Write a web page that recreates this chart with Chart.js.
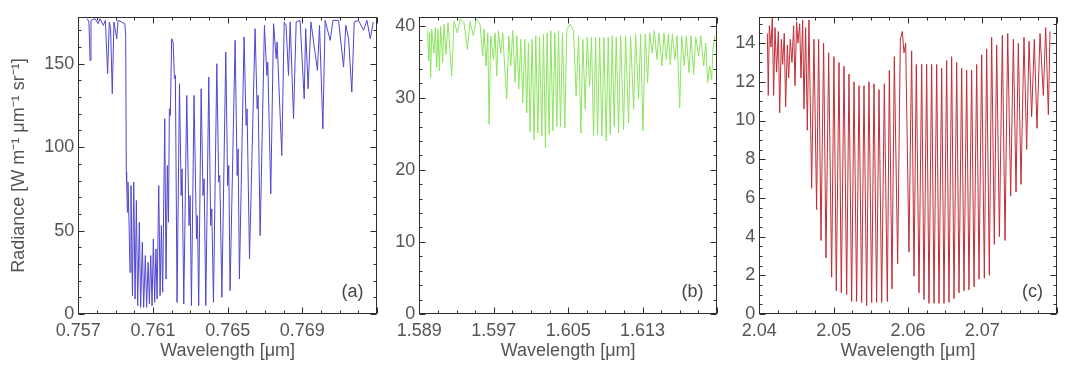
<!DOCTYPE html>
<html>
<head>
<meta charset="utf-8">
<script src="https://cdn.jsdelivr.net/npm/chart.js@4.4.1/dist/chart.umd.min.js"></script>
<style>
  body { margin: 0; background: #fff; }
  .panel { position: absolute; top: 0; height: 374px; }
</style>
</head>
<body>
<div class="panel" style="left:0;width:382px"><canvas id="chartA"></canvas></div>
<div class="panel" style="left:382px;width:338px"><canvas id="chartB"></canvas></div>
<div class="panel" style="left:720px;width:345px"><canvas id="chartC"></canvas></div>
<script>
// (a) 0.76 um band
const waveA = [0.75748,0.75757,0.75763,0.75768,0.75789,0.75807,0.75816,0.75834,0.75845,0.75857,
  0.75866,0.75873,0.75882,0.75891,0.75906,0.75913,0.75932,0.75949,0.75954,0.75957,
  0.75959,0.75963,0.75966,0.75972,0.75977,0.75982,0.75990,0.75997,0.76004,0.76011,
  0.76018,0.76027,0.76034,0.76043,0.76050,0.76059,0.76066,0.76074,0.76081,0.76088,
  0.76095,0.76102,0.76109,0.76116,0.76122,0.76131,0.76138,0.76145,0.76152,0.76163,
  0.76170,0.76177,0.76183,0.76188,0.76193,0.76200,0.76208,0.76215,0.76220,0.76229,
  0.76242,0.76251,0.76256,0.76265,0.76281,0.76293,0.76299,0.76306,0.76320,0.76333,
  0.76338,0.76345,0.76358,0.76368,0.76374,0.76383,0.76399,0.76409,0.76415,0.76424,
  0.76442,0.76452,0.76458,0.76469,0.76490,0.76500,0.76506,0.76513,0.76540,0.76551,
  0.76556,0.76563,0.76588,0.76599,0.76604,0.76617,0.76647,0.76658,0.76663,0.76674,
  0.76697,0.76710,0.76715,0.76731,0.76746,0.76760,0.76765,0.76790,0.76803,0.76813,
  0.76826,0.76835,0.76853,0.76867,0.76888,0.76910,0.76918,0.76931,0.76946,0.76981,
  0.76992,0.77010,0.77022,0.77049,0.77064,0.77094,0.77121,0.77133,0.77148,0.77165,
  0.77178,0.77201,0.77228,0.77246,0.77264,0.77280];
const radA = [177,175,152,176,177,174,177,173,176,144,
  175,171,132,175,165,176,175,174,167,85,
  79,61,79,53,25,77,11,79,9,68,
  5,55,4,43,4,35,4,31,6,35,
  5,45,7,39,9,77,11,53,13,117,
  21,89,55,123,119,165,163,141,143,7,
  138,71,87,6,131,53,71,5,131,45,
  59,5,135,71,81,5,142,53,63,7,
  150,79,83,10,157,77,89,14,164,83,
  99,21,166,113,123,33,171,123,131,47,
  173,143,151,72,174,153,163,95,175,173,
  143,175,117,175,176,129,171,135,175,146,
  173,111,176,164,176,176,148,173,165,133,
  175,176,170,176,165,175];

// (b) 1.6 um band
const waveB = [1.58990,1.59001,1.59011,1.59022,1.59033,1.59058,1.59072,1.59087,1.59101,1.59115,
  1.59130,1.59151,1.59166,1.59187,1.59209,1.59248,1.59273,1.59309,1.59338,1.59381,
  1.59417,1.59445,1.59481,1.59510,1.59553,1.59582,1.59596,1.59618,1.59636,1.59650,
  1.59668,1.59697,1.59715,1.59732,1.59750,1.59776,1.59797,1.59826,1.59840,1.59862,
  1.59883,1.59905,1.59930,1.59948,1.59969,1.59991,1.60012,1.60034,1.60055,1.60073,
  1.60091,1.60113,1.60134,1.60152,1.60174,1.60192,1.60217,1.60235,1.60256,1.60274,
  1.60296,1.60314,1.60335,1.60357,1.60378,1.60396,1.60418,1.60439,1.60464,1.60486,
  1.60522,1.60558,1.60586,1.60612,1.60637,1.60658,1.60683,1.60705,1.60730,1.60751,
  1.60773,1.60795,1.60816,1.60838,1.60863,1.60884,1.60909,1.60931,1.60952,1.60974,
  1.60995,1.61017,1.61042,1.61064,1.61096,1.61117,1.61150,1.61171,1.61204,1.61225,
  1.61257,1.61279,1.61304,1.61329,1.61354,1.61376,1.61404,1.61426,1.61455,1.61476,
  1.61509,1.61530,1.61555,1.61577,1.61598,1.61620,1.61648,1.61670,1.61699,1.61720,
  1.61749,1.61770,1.61799,1.61821,1.61849,1.61871,1.61903,1.61925,1.61957,1.61979,
  1.62000,1.62022,1.62043,1.62057,1.62079];
const radB = [39.3,35.1,39.0,32.8,39.5,36.2,39.7,34.2,39.5,33.7,
  39.9,34.9,40.2,36.0,40.4,33.0,40.6,39.0,40.9,40.4,
  36.7,40.6,38.6,40.9,40.2,35.8,39.5,34.4,39.0,26.3,
  38.6,35.3,39.0,33.0,39.3,36.2,39.0,32.5,29.8,38.6,
  34.4,39.3,32.1,38.6,31.2,38.1,29.3,38.1,27.9,37.6,
  25.3,38.1,24.2,38.6,25.1,38.4,24.7,38.8,23.0,39.0,
  24.9,39.3,25.4,39.0,26.0,39.3,26.0,39.0,25.8,39.5,
  40.2,39.3,30.2,38.6,25.1,38.1,28.4,38.4,31.6,38.4,
  24.7,38.4,24.9,38.4,24.7,38.4,24.0,38.4,24.9,38.6,
  26.0,38.4,25.1,38.6,25.6,38.6,26.5,38.6,28.4,38.8,
  29.8,38.8,25.4,38.8,32.1,39.0,36.2,39.3,35.3,39.0,
  34.4,39.0,35.3,38.8,34.6,38.8,35.3,38.6,28.6,38.6,
  34.4,38.6,33.5,38.6,33.2,38.4,35.8,38.6,34.4,37.6,
  32.1,34.4,32.5,36.7,38.6];

// (c) 2.06 um band
const waveC = [2.04108,2.04121,2.04135,2.04157,2.04175,2.04193,2.04211,2.04233,2.04256,2.04274,
  2.04296,2.04314,2.04336,2.04354,2.04377,2.04395,2.04417,2.04439,2.04462,2.04480,
  2.04502,2.04520,2.04543,2.04561,2.04583,2.04601,2.04623,2.04646,2.04668,2.04704,
  2.04735,2.04771,2.04798,2.04830,2.04865,2.04897,2.04933,2.04973,2.05004,2.05036,
  2.05072,2.05103,2.05139,2.05175,2.05206,2.05242,2.05274,2.05309,2.05341,2.05377,
  2.05408,2.05444,2.05475,2.05511,2.05543,2.05578,2.05610,2.05646,2.05682,2.05722,
  2.05749,2.05785,2.05816,2.05861,2.05897,2.05924,2.05946,2.05969,2.06013,2.06049,
  2.06081,2.06112,2.06148,2.06184,2.06215,2.06251,2.06282,2.06318,2.06350,2.06386,
  2.06417,2.06453,2.06484,2.06520,2.06551,2.06587,2.06619,2.06655,2.06686,2.06722,
  2.06753,2.06789,2.06820,2.06856,2.06888,2.06924,2.06955,2.06991,2.07027,2.07058,
  2.07094,2.07125,2.07161,2.07193,2.07229,2.07269,2.07305,2.07341,2.07381,2.07417,
  2.07453,2.07484,2.07520,2.07560,2.07596,2.07628,2.07663,2.07699,2.07735,2.07776,
  2.07820,2.07852,2.07888,2.07910];
const radC = [14.5,11.3,14.9,13.8,15.3,11.3,14.8,12.5,14.6,10.4,
  14.2,12.9,14.5,10.7,13.9,12.2,14.2,13.0,14.9,11.8,
  15.1,14.0,15.0,12.2,15.2,10.6,14.8,9.5,15.2,6.5,
  14.2,5.4,14.2,3.8,14.0,2.9,13.5,1.9,13.3,1.2,
  13.0,1.1,12.8,1.0,12.4,0.65,12.0,0.65,11.8,0.6,
  11.8,0.43,12.0,0.6,11.9,0.6,11.6,0.6,11.9,0.65,
  12.6,1.3,13.3,2.6,14.2,14.6,13.5,14.0,3.2,13.6,
  1.95,12.9,1.1,12.9,0.75,12.9,0.55,12.9,0.55,12.9,
  0.55,12.7,0.55,13.1,0.6,13.3,0.8,13.0,1.1,12.7,
  1.2,12.6,1.25,12.6,1.4,12.9,1.8,13.4,1.85,13.7,
  2.0,14.3,3.6,13.9,4.0,14.4,3.8,14.5,6.1,14.2,
  6.3,14.0,6.7,14.3,8.5,14.1,10.2,14.2,9.6,14.5,
  11.3,14.8,10.3,14.6];

const ticksXA = [0.757, 0.761, 0.765, 0.769];
const ticksXB = [1.589, 1.597, 1.605, 1.613];
const ticksXC = [2.04, 2.05, 2.06, 2.07];
const ticksYA = [0, 50, 100, 150];
const ticksYB = [0, 10, 20, 30, 40];
const ticksYC = [0, 2, 4, 6, 8, 10, 12, 14];

const textColor = '#555';
const tickFont = { family: 'Liberation Sans, Arial, sans-serif', size: 18 };

// box around the plot with inward ticks on all four sides, plus panel letter
const framePlugin = {
  id: 'frame',
  afterDraw(chart, args, opts) {
    const { ctx, chartArea, scales: { x, y } } = chart;
    const L = Math.round(chartArea.left) + 0.5, R = Math.round(chartArea.right) - 0.5;
    const T = Math.round(chartArea.top) + 0.5, B = Math.round(chartArea.bottom) - 0.5;
    ctx.save();
    ctx.strokeStyle = '#2e2e2e';
    ctx.lineWidth = 1;
    ctx.strokeRect(L, T, R - L, B - T);
    ctx.beginPath();
    const nx = Math.round((x.max - x.min) / opts.xMinor);
    for (let i = 0; i <= nx; i++) {
      const px = Math.round(x.getPixelForValue(x.min + i * opts.xMinor)) + 0.5;
      const len = i % opts.xEvery === 0 ? 6 : 3;
      ctx.moveTo(px, B); ctx.lineTo(px, B - len);
      ctx.moveTo(px, T); ctx.lineTo(px, T + len);
    }
    const ny = Math.floor(y.max / opts.yMinor + 1e-6);
    for (let i = 0; i <= ny; i++) {
      const py = Math.round(y.getPixelForValue(i * opts.yMinor)) + 0.5;
      const len = i % opts.yEvery === 0 ? 6 : 3;
      ctx.moveTo(L, py); ctx.lineTo(L + len, py);
      ctx.moveTo(R, py); ctx.lineTo(R - len, py);
    }
    ctx.stroke();
    ctx.fillStyle = '#444';
    ctx.font = '18px Liberation Sans, Arial, sans-serif';
    ctx.textAlign = 'center';
    ctx.textBaseline = 'middle';
    ctx.fillText(opts.label, R - 24, B - 21);
    ctx.restore();
  }
};

function makePanel(id, wave, rad, cfg) {
  const points = wave.map((w, i) => ({ x: w, y: rad[i] }));
  return new Chart(document.getElementById(id), {
    type: 'line',
    data: {
      datasets: [{
        data: points,
        borderColor: cfg.color,
        borderWidth: 1,
        pointRadius: 0,
        tension: 0
      }]
    },
    options: {
      responsive: true,
      maintainAspectRatio: false,
      animation: false,
      layout: { padding: { top: 17, right: cfg.padRight, left: 0, bottom: 0 } },
      plugins: {
        legend: { display: false },
        tooltip: { enabled: false },
        frame: { label: cfg.label, xMinor: cfg.xMinor, xEvery: 4, yMinor: cfg.yMinor, yEvery: cfg.yEvery }
      },
      scales: {
        x: {
          type: 'linear',
          min: cfg.xMin,
          max: cfg.xMax,
          grid: { display: false, drawTicks: false },
          border: { display: false },
          afterBuildTicks: s => { s.ticks = cfg.xTicks.map(v => ({ value: v })); },
          afterFit: s => { s.height = 60; },
          ticks: {
            font: tickFont, color: textColor, padding: 6, maxRotation: 0, autoSkip: false,
            callback: v => v.toFixed(cfg.xDigits)
          },
          title: {
            display: true, text: 'Wavelength [μm]', font: tickFont, color: textColor,
            padding: { top: 0, bottom: 12 }
          }
        },
        y: {
          min: 0,
          max: cfg.yMax,
          grid: { display: false, drawTicks: false },
          border: { display: false },
          afterBuildTicks: s => { s.ticks = cfg.yTicks.map(v => ({ value: v })); },
          afterFit: s => { s.width = cfg.yWidth; },
          ticks: { font: tickFont, color: textColor, padding: 4, autoSkip: false },
          title: {
            display: !!cfg.yTitle, text: cfg.yTitle || '', font: tickFont, color: textColor,
            padding: { top: 8, bottom: 0 }
          }
        }
      }
    },
    plugins: [framePlugin]
  });
}

makePanel('chartA', waveA, radA, {
  xMin: 0.757, xMax: 0.773, yMax: 178, xTicks: ticksXA, yTicks: ticksYA, xDigits: 3,
  xMinor: 0.001, yMinor: 10, yEvery: 5, yWidth: 78.3, padRight: 5,
  color: 'rgb(80, 70, 208)', label: '(a)',
  yTitle: 'Radiance [W m⁻¹ μm⁻¹ sr⁻¹]'
});
makePanel('chartB', waveB, radB, {
  xMin: 1.589, xMax: 1.621, yMax: 41.2, xTicks: ticksXB, yTicks: ticksYB, xDigits: 3,
  xMinor: 0.002, yMinor: 2, yEvery: 5, yWidth: 37.3, padRight: 3,
  color: 'rgb(140, 228, 95)', label: '(b)'
});
makePanel('chartC', waveC, radC, {
  xMin: 2.04, xMax: 2.08, yMax: 15.35, xTicks: ticksXC, yTicks: ticksYC, xDigits: 2,
  xMinor: 0.0025, yMinor: 0.5, yEvery: 4, yWidth: 39.3, padRight: 8.3,
  color: 'rgb(196, 45, 55)', label: '(c)'
});
</script>
</body>
</html>
